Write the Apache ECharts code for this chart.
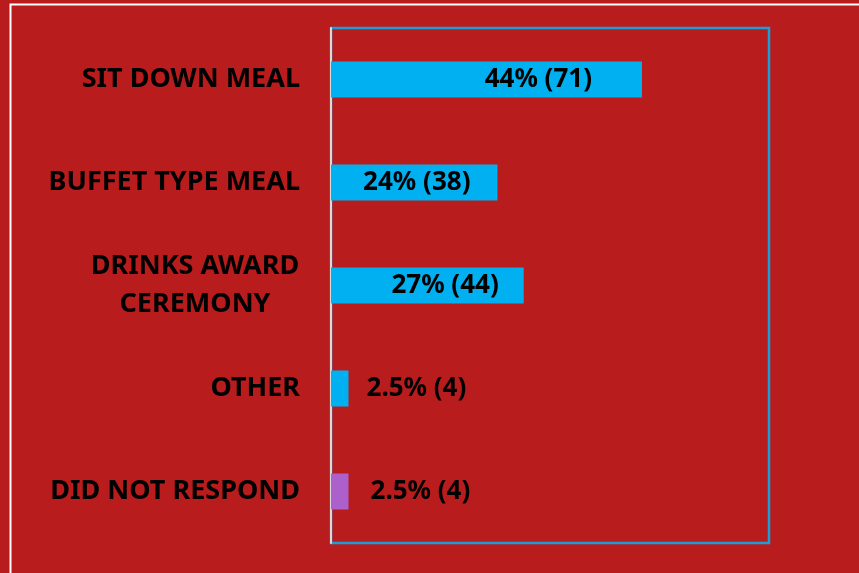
<!DOCTYPE html>
<html lang="en">
  <head>
    <meta charset="UTF-8" />
    <title>Meal preference</title>
    <script src="https://cdn.jsdelivr.net/npm/echarts@6/dist/echarts.min.js"></script>
    <style>
      html, body { margin: 0; padding: 0; background: #b91c1c; }
      .echarts { width: 859px; height: 573px; }
    </style>
  </head>
  <body>
    <div class="echarts"></div>
    <script>
      const categories = ['SIT DOWN MEAL', 'BUFFET TYPE MEAL', 'DRINKS AWARD\nCEREMONY', 'OTHER', 'DID NOT RESPOND']
      const counts = [71, 38, 44, 4, 4]
      const percents = ['44%', '24%', '27%', '2.5%', '2.5%']
      const barColors = ['#00b0f0', '#00b0f0', '#00b0f0', '#00b0f0', '#ad5fcc']

      const font = '"Noto Sans", sans-serif'
      const myCharts = echarts.init(document.querySelector('.echarts'))

      // label placement per bar (inside for long ones, outside for short ones)
      const labelPos = [
        { position: 'insideRight', distance: 50 },
        { position: 'insideRight', distance: 27 },
        { position: 'insideRight', distance: 25 },
        { position: 'right', distance: 18 },
        { position: 'right', distance: 22 }
      ]

      const option = {
        backgroundColor: '#b91c1c',
        graphic: [
          {
            type: 'rect',
            shape: { x: 10.5, y: 4.5, width: 900, height: 600 },
            style: { fill: 'none', stroke: '#ffffff', lineWidth: 2 },
            silent: true
          }
        ],
        grid: {
          show: true,
          left: 331,
          top: 28,
          right: 90,
          bottom: 30,
          borderColor: '#1c9fd8',
          borderWidth: 2.5,
          containLabel: false
        },
        xAxis: {
          type: 'value',
          min: 0,
          max: 100,
          show: false
        },
        yAxis: {
          type: 'category',
          inverse: true,
          data: categories.map((c, i) =>
            i === 2
              ? { value: c, textStyle: { align: 'center', padding: [0, 210, 0, 0] } }
              : c
          ),
          axisLine: { show: true, lineStyle: { color: '#d9d9d9', width: 2 } },
          axisTick: { show: false },
          axisLabel: {
            margin: 31,
            color: '#000',
            fontFamily: font,
            fontWeight: 'bold',
            fontSize: 27,
            lineHeight: 38
          }
        },
        series: [
          {
            type: 'bar',
            barWidth: '35%',
            data: counts.map((v, i) => ({
              value: v,
              itemStyle: { color: barColors[i] },
              label: labelPos[i]
            })),
            label: {
              show: true,
              color: '#000',
              fontFamily: font,
              fontWeight: 'bold',
              fontSize: 26,
              formatter: p => percents[p.dataIndex] + ' (' + p.value + ')'
            }
          }
        ]
      }
      myCharts.setOption(option)
    </script>
  </body>
</html>
